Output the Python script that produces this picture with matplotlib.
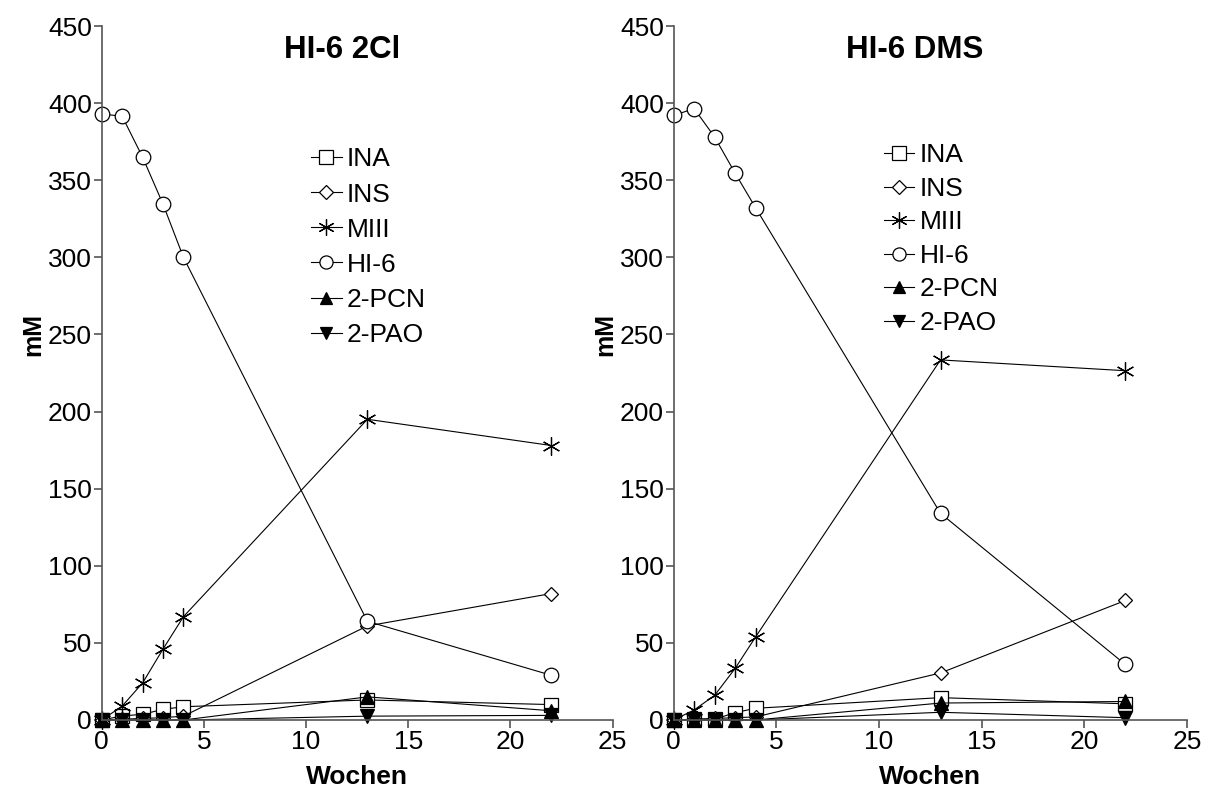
import matplotlib.pyplot as plt

plt.rcParams['font.family'] = ['Liberation Sans', 'DejaVu Sans']

# Wochen
weeks = [0, 1, 2, 3, 4, 13, 22]

# HI-6 2Cl (mM)
cl_ina = [0, 2.6, 3.7, 6.9, 8.6, 13, 10]
cl_ins = [0, 0.5, 1, 1.5, 2.5, 61, 82]
cl_miii = [0, 9, 24, 46, 67, 195, 178]
cl_hi6 = [393, 391.5, 365, 334.5, 300, 64, 29]
cl_pcn = [0, 0, 0, 0, 0, 15, 6]
cl_pao = [0, 0, 0, 0, 0, 2.5, 3]

# HI-6 DMS (mM)
dms_ina = [0, 0.4, 0.5, 4.8, 7.6, 14.5, 10.5]
dms_ins = [0, 0.5, 1, 1.5, 2, 30.5, 77.5]
dms_miii = [0, 6.5, 16, 33.5, 54, 233.5, 226.5]
dms_hi6 = [392, 396.5, 378, 354.5, 332, 134, 36]
dms_pcn = [0, 0, 0, 0, 0, 11, 12]
dms_pao = [0, 0, 0, 0, 0, 5, 1.5]

names = ['INA', 'INS', 'MIII', 'HI-6', '2-PCN', '2-PAO']
markers = ['s', 'D', (6, 2, 0), 'o', '^', 'v']
msizes = [10.5, 7.5, 13, 10.5, 9.5, 9.5]
fills = ['white', 'white', 'none', 'white', 'black', 'black']

fig = plt.figure(figsize=(12.05, 7.94), dpi=100)
ax1 = fig.add_axes([0.0844, 0.0932, 0.424, 0.874])
ax2 = fig.add_axes([0.559, 0.0932, 0.426, 0.874])

panels = [
    (ax1, 'HI-6 2Cl', [cl_ina, cl_ins, cl_miii, cl_hi6, cl_pcn, cl_pao], (0.41, 0.825), 0.42),
    (ax2, 'HI-6 DMS', [dms_ina, dms_ins, dms_miii, dms_hi6, dms_pcn, dms_pao], (0.41, 0.831), 0.36),
]

for ax, title, series, legpos, lsp in panels:
    for vals, name, m, ms, fc in zip(series, names, markers, msizes, fills):
        ax.plot(weeks, vals, color='black', lw=0.8, marker=m, markersize=ms,
                markerfacecolor=fc, markeredgecolor='black', markeredgewidth=0.9,
                label=name, clip_on=False)

    ax.set_xlim(0, 25)
    ax.set_ylim(0, 450)
    ax.set_xticks([0, 5, 10, 15, 20, 25])
    ax.set_yticks(range(0, 451, 50))
    ax.spines['top'].set_visible(False)
    ax.spines['right'].set_visible(False)
    for s in ['left', 'bottom']:
        ax.spines[s].set_color('#555555')
        ax.spines[s].set_linewidth(1.2)
    ax.tick_params(direction='out', length=6, width=1.2, color='#555555',
                   labelsize=19, pad=1)

    ax.set_xlabel('Wochen', fontsize=19, fontweight='bold', labelpad=8)
    ax.set_ylabel('mM', fontsize=18, fontweight='bold')
    ax.yaxis.set_label_coords(-0.11, 0.555)
    ax.text(0.47, 0.965, title, transform=ax.transAxes, ha='center', va='center',
            fontsize=22.5, fontweight='bold')

    ax.legend(loc='upper left', bbox_to_anchor=legpos, frameon=False,
              fontsize=19, handlelength=1.15, handletextpad=0.2,
              labelspacing=lsp, markerscale=0.9, borderpad=0, borderaxespad=0)

plt.savefig('out.png', dpi=100)
